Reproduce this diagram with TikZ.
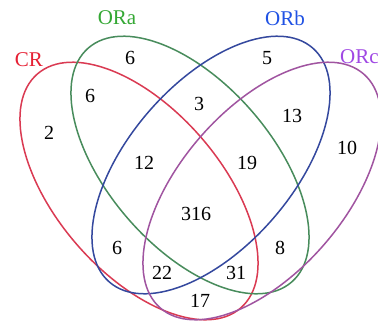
\documentclass[tikz,border=0pt]{standalone}
\usepackage{fontspec}
\setmainfont{Liberation Serif}
\definecolor{redline}{RGB}{218,58,82}
\definecolor{greenline}{RGB}{72,140,92}
\definecolor{blueline}{RGB}{52,72,158}
\definecolor{purpleline}{RGB}{160,84,160}
\definecolor{redtext}{RGB}{230,32,52}
\definecolor{greentext}{RGB}{52,168,52}
\definecolor{bluetext}{RGB}{32,82,228}
\definecolor{purpletext}{RGB}{160,72,228}
\tikzset{
  setline/.style={line width=1.5pt},
  num/.style={font=\fontsize{20}{20}\selectfont, inner sep=0pt},
  setlabel/.style={font=\fontsize{21}{21}\selectfont, inner sep=0pt}
}
\begin{document}
\begin{tikzpicture}[x=1pt,y=-1pt]
\useasboundingbox (0,0) rectangle (378,322);
\fill[white] (0,0) rectangle (378,322);
\begin{scope}
\clip (0,0) rectangle (378,322);
\draw[setline, redline] (139,191) circle [x radius=155pt, y radius=82pt, rotate=-49];
\draw[setline, greenline] (190,165) circle [x radius=155pt, y radius=82pt, rotate=-49];
\draw[setline, blueline] (211,165) circle [x radius=155pt, y radius=82pt, rotate=49];
\draw[setline, purpleline] (262,191) circle [x radius=155pt, y radius=82pt, rotate=49];
\end{scope}
\node[setlabel, text=redtext] (lcr) at (29,60) {CR};
\node[setlabel, text=greentext] (lora) at (117,18) {ORa};
\node[setlabel, text=bluetext] (lorb) at (285,18) {ORb};
\node[setlabel, text=purpletext, anchor=west] (lorc) at (340,57) {ORc};
\node[num] (n1) at (130,58) {6};
\node[num] (n2) at (90,96) {6};
\node[num] (n3) at (49,133) {2};
\node[num] (n4) at (199,104) {3};
\node[num] (n5) at (267,58) {5};
\node[num] (n6) at (292,116) {13};
\node[num] (n7) at (347,148) {10};
\node[num] (n8) at (144,163) {12};
\node[num] (n9) at (247,163) {19};
\node[num] (n10) at (196,214) {316};
\node[num] (n11) at (117,248) {6};
\node[num] (n12) at (162,273) {22};
\node[num] (n13) at (236,273) {31};
\node[num] (n14) at (280,248) {8};
\node[num] (n15) at (200,301) {17};
\end{tikzpicture}
\end{document}
